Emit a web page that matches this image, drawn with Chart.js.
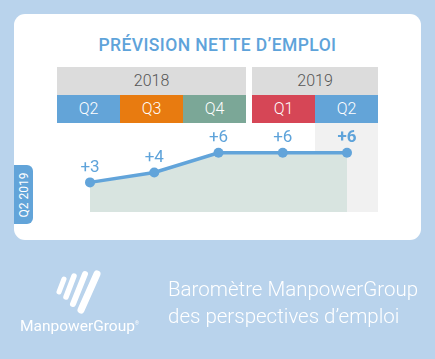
<!DOCTYPE html>
<html>
<head>
<meta charset="utf-8">
<script src="https://cdn.jsdelivr.net/npm/chart.js@4"></script>
<style>
  html, body { margin: 0; padding: 0; }
  body { width: 435px; height: 359px; background: #b9d3ec; position: relative; overflow: hidden; font-family: Roboto, "Liberation Sans", sans-serif; }
  .card { position: absolute; left: 14px; top: 14px; width: 407px; height: 226px; background: #fff; border-radius: 11px; }
  .title { position: absolute; left: 14px; width: 407px; top: 35px; text-align: center; color: #5ea3da; font: 500 17.5px Roboto, sans-serif; letter-spacing: 0.4px; }
  .box { position: absolute; text-align: center; box-sizing: border-box; }
  .year { background: #dcdcdc; color: #555; font-size: 16px; font-weight: 300; line-height: 28px; height: 28px; top: 67px; }
  .q { color: #fff; font-size: 16px; font-weight: 300; line-height: 28px; height: 28px; top: 95px; }
  .col { position: absolute; left: 315px; top: 123px; width: 63px; height: 89px; background: #f1f1f1; }
  .tab { position: absolute; left: 14px; top: 165px; width: 19px; height: 59px; background: #62a4d9; border-radius: 0 6px 6px 0; }
  .tab span { position: absolute; left: 50%; top: 50%; transform: translate(-50%, -50%) rotate(-90deg); color: #fff; font-size: 12px; white-space: nowrap; }
  canvas#chart { position: absolute; left: 0; top: 0; }
  .brand { position: absolute; left: 20px; top: 317px; color: #fff; font-size: 15.5px; }
  .tag { position: absolute; left: 168px; top: 276px; color: #fff; font: 300 20.5px Roboto, sans-serif; line-height: 27px; }
</style>
</head>
<body>
<div class="card"></div>
<div class="title">PRÉVISION NETTE D’EMPLOI</div>
<div id="headers"></div>
<div class="col"></div>
<div class="tab"><span>Q2 2019</span></div>
<canvas id="chart" width="435" height="359"></canvas>
<svg style="position:absolute;left:52px;top:268px" width="60" height="50">
  <g stroke="#fff" stroke-linecap="round" fill="none">
    <line x1="12" y1="11" x2="7" y2="24" stroke-width="5"/>
    <line x1="22" y1="8" x2="14" y2="29" stroke-width="5.5"/>
    <line x1="33" y1="6" x2="21" y2="36" stroke-width="6"/>
    <line x1="45" y1="6" x2="29" y2="42" stroke-width="7"/>
  </g>
</svg>
<div class="brand">ManpowerGroup<sup style="font-size:5px">®</sup></div>
<div class="tag">Baromètre ManpowerGroup<br>des perspectives d’emploi</div>
<script>
const quarters = ["Q2", "Q3", "Q4", "Q1", "Q2"];
const quarterColors = ["#63a4d8", "#e87b10", "#7ba797", "#d64656", "#63a4d8"];
const years = ["2018", "2019"];
const values = [3, 4, 6, 6, 6];
const valueLabels = ["+3", "+4", "+6", "+6", "+6"];

// header boxes
const headers = document.getElementById("headers");
const qLeft = [57, 120, 183, 252, 315];
const yearBoxes = [[57, 189], [252, 126]];
years.forEach((y, i) => {
  const d = document.createElement("div");
  d.className = "box year";
  d.style.left = yearBoxes[i][0] + "px";
  d.style.width = yearBoxes[i][1] + "px";
  d.textContent = y;
  headers.appendChild(d);
});
quarters.forEach((q, i) => {
  const d = document.createElement("div");
  d.className = "box q";
  d.style.left = qLeft[i] + "px";
  d.style.width = "63px";
  d.style.background = quarterColors[i];
  d.textContent = q;
  headers.appendChild(d);
});

const valueLabelPlugin = {
  id: "valueLabels",
  afterDatasetsDraw(chart) {
    const ctx = chart.ctx;
    const meta = chart.getDatasetMeta(0);
    ctx.save();
    ctx.fillStyle = "#5ea3da";
    ctx.textAlign = "center";
    ctx.textBaseline = "middle";
    meta.data.forEach((pt, i) => {
      const last = i === meta.data.length - 1;
      ctx.font = (last ? "bold " : "") + "17px Roboto, sans-serif";
      ctx.fillText(valueLabels[i], pt.x, pt.y - 15);
    });
    ctx.restore();
  }
};

new Chart(document.getElementById("chart"), {
  type: "line",
  data: {
    labels: quarters,
    datasets: [{
      data: values,
      borderColor: "#62a4da",
      borderWidth: 3.5,
      backgroundColor: "#d8e4e0",
      fill: "start",
      pointRadius: 5,
      pointBackgroundColor: "#62a4da",
      pointBorderWidth: 0,
      tension: 0,
      clip: false
    }]
  },
  options: {
    responsive: false,
    animation: false,
    events: [],
    layout: { padding: { left: 90, right: 88, top: 133, bottom: 147 } },
    plugins: { legend: { display: false }, tooltip: { enabled: false } },
    scales: {
      x: { display: false, offset: false },
      y: { display: false, min: 0, max: 8 }
    }
  },
  plugins: [valueLabelPlugin]
});
</script>
</body>
</html>
